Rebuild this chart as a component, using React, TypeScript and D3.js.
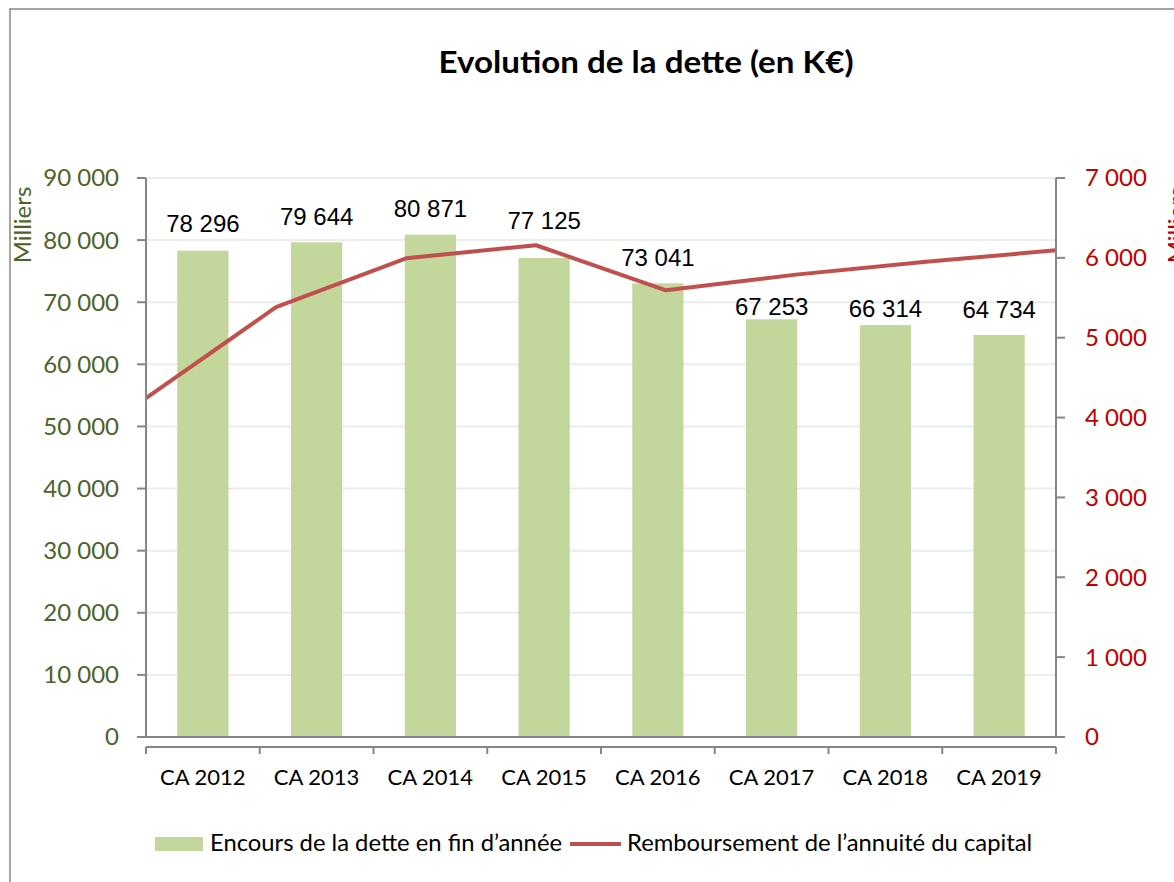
import React from 'react';
import * as d3 from 'd3';

const categories = ['CA 2012', 'CA 2013', 'CA 2014', 'CA 2015', 'CA 2016', 'CA 2017', 'CA 2018', 'CA 2019'];
const encours = [78296, 79644, 80871, 77125, 73041, 67253, 66314, 64734];
const remboursement = [4243, 5382, 5995, 6158, 5594, 5790, 5950, 6095];
const leftTicks = [0, 10000, 20000, 30000, 40000, 50000, 60000, 70000, 80000, 90000];
const rightTicks = [0, 1000, 2000, 3000, 4000, 5000, 6000, 7000];

// label distance above bar top (labels were nudged by hand in the original)
const labelGap = [19, 17, 18, 29, 17, 4, 8, 17];

const fmt = (v: number) => d3.format(',')(v).replace(/,/g, ' ');

const GREEN = '#c3d69b';
const RED = '#c0504d';
const AXIS = '#868686';

export default function App() {
  const width = 1174;
  const height = 882;
  const left = 146, right = 1056, top = 178, bottom = 737;

  const x = d3.scaleBand<string>().domain(categories).range([left, right]).paddingInner(0.55).paddingOuter(0.275);
  const xp = d3.scalePoint<string>().domain(categories).range([left, right]);
  const yL = d3.scaleLinear().domain([0, 90000]).range([bottom, top]);
  const yR = d3.scaleLinear().domain([0, 7000]).range([bottom, top]);

  const line = d3.line<number>()
    .x((_, i) => xp(categories[i]) as number)
    .y(d => yR(d));

  const font = 'Lato, "Open Sans", sans-serif';
  const bandTicks = categories.map(c => x(c)! - x.step() * x.paddingInner() / 2).concat([right]);

  return (
    <svg width={width} height={height} style={{ position: 'absolute', left: 0, top: 0 }}>
      <rect x={0} y={0} width={width} height={height} fill="#fff" />
      <rect x={10} y={9} width={width + 20} height={height + 20} fill="none" stroke={AXIS} strokeWidth={1.5} />

      <text x={646} y={73} textAnchor="middle" fontFamily={font} fontWeight="bold" fontSize={30}
        textLength={415} lengthAdjust="spacingAndGlyphs" fill="#000">
        Evolution de la dette (en K€)
      </text>

      {/* gridlines */}
      {leftTicks.map(t => (
        <line key={t} x1={left} x2={right} y1={yL(t)} y2={yL(t)} stroke="#ececec" strokeWidth={2} />
      ))}

      {/* bars */}
      {encours.map((v, i) => (
        <rect key={i} x={x(categories[i])} y={yL(v)} width={x.bandwidth()} height={bottom - yL(v)} fill={GREEN} />
      ))}

      {/* line */}
      <path d={line(remboursement) || ''} fill="none" stroke={RED} strokeWidth={4} strokeLinejoin="round" />

      {/* data labels */}
      {encours.map((v, i) => (
        <text key={i} x={(x(categories[i]) as number) + x.bandwidth() / 2} y={yL(v) - labelGap[i]}
          textAnchor="middle" fontFamily='"Liberation Sans", Arial, sans-serif' fontSize={24} fill="#000">
          {fmt(v)}
        </text>
      ))}

      {/* left axis */}
      <line x1={left} x2={left} y1={top} y2={bottom} stroke={AXIS} strokeWidth={2} />
      {leftTicks.map(t => (
        <g key={t}>
          <line x1={left - 9} x2={left} y1={yL(t)} y2={yL(t)} stroke={AXIS} strokeWidth={2} />
          <text x={119} y={yL(t)} dy="0.35em" textAnchor="end" fontFamily={font} fontSize={24} fill="#4f6228">{fmt(t)}</text>
        </g>
      ))}
      <text transform={`translate(31,225) rotate(-90)`} textAnchor="middle" fontFamily={font} fontSize={24} fill="#4f6228">Milliers</text>

      {/* right axis */}
      <line x1={right} x2={right} y1={top} y2={bottom} stroke={AXIS} strokeWidth={2} />
      {rightTicks.map(t => (
        <g key={t}>
          <line x1={right} x2={right + 9} y1={yR(t)} y2={yR(t)} stroke={AXIS} strokeWidth={2} />
          <text x={1085} y={yR(t)} dy="0.35em" textAnchor="start" fontFamily={font} fontSize={24} fill="#c00000">{fmt(t)}</text>
        </g>
      ))}
      <text transform={`translate(1185,225) rotate(-90)`} textAnchor="middle" fontFamily={font} fontSize={24} fill="#c00000">Milliers</text>

      {/* primary x axis */}
      <line x1={left - 9} x2={right} y1={bottom} y2={bottom} stroke={AXIS} strokeWidth={2} />
      {/* secondary category axis */}
      <line x1={left} x2={right} y1={747} y2={747} stroke={AXIS} strokeWidth={2} />
      {bandTicks.map((t, i) => (
        <line key={i} x1={t} x2={t} y1={747} y2={754} stroke={AXIS} strokeWidth={2} />
      ))}
      {categories.map(c => (
        <text key={c} x={(x(c) as number) + x.bandwidth() / 2} y={785} textAnchor="middle" fontFamily={font} fontSize={22} fill="#000">{c}</text>
      ))}

      {/* legend */}
      <rect x={155} y={837} width={48} height={14} fill={GREEN} />
      <text x={210} y={851} fontFamily={font} fontSize={23.8} fill="#000">Encours de la dette en fin d’année</text>
      <line x1={570} x2={621} y1={844} y2={844} stroke={RED} strokeWidth={4} />
      <text x={627} y={851} fontFamily={font} fontSize={23.8} fill="#000">Remboursement de l’annuité du capital</text>
    </svg>
  );
}
